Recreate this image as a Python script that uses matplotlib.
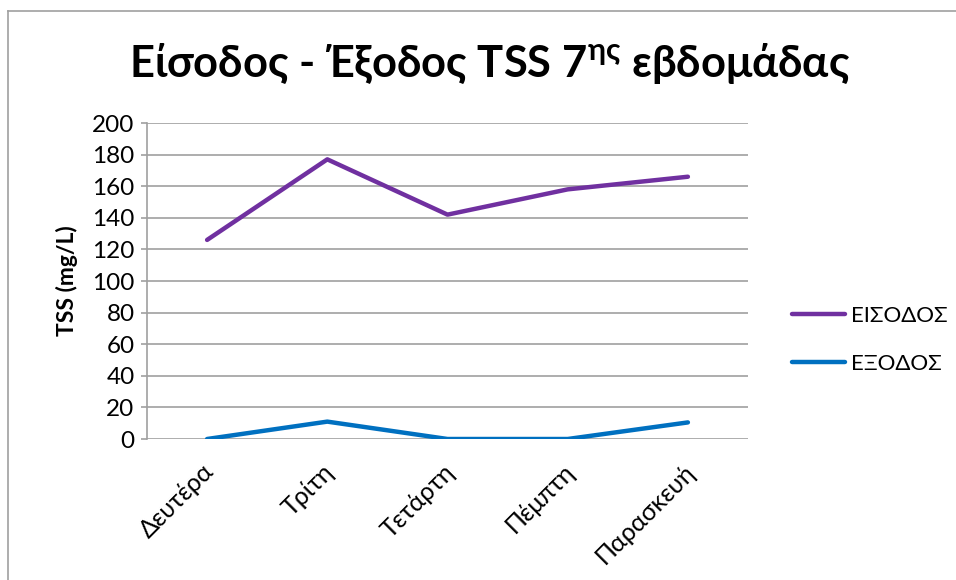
import matplotlib
matplotlib.use("Agg")
import matplotlib.pyplot as plt
from matplotlib.lines import Line2D

days = ["Δευτέρα", "Τρίτη", "Τετάρτη", "Πέμπτη", "Παρασκευή"]
eisodos = [126, 177, 142, 158, 166]
exodos = [0, 11, 0, 0, 10.5]
yticks = [0, 20, 40, 60, 80, 100, 120, 140, 160, 180, 200]

plt.rcParams['font.family'] = ['Lato', 'DejaVu Sans']

fig = plt.figure(figsize=(9.56, 5.8), dpi=100)
ax = fig.add_axes([147/956, 1-439/580, (748-147)/956, (439-123)/580])

x = list(range(len(days)))
ax.plot(x, eisodos, color="#7030A0", lw=3.2, solid_capstyle='round', solid_joinstyle='round', label="ΕΙΣΟΔΟΣ", zorder=3)
ax.plot(x, exodos, color="#0070C0", lw=3.2, solid_capstyle='round', solid_joinstyle='round', label="ΕΞΟΔΟΣ", zorder=3)

ax.set_xlim(-0.5, len(days)-0.5)
ax.set_ylim(0, 200)
ax.set_yticks(yticks)
ax.set_yticklabels([str(v) for v in yticks], fontsize=17.5)
ax.yaxis.grid(True, color="#a0a0a0", lw=1.2)
ax.set_axisbelow(True)
for s in ["top", "right", "bottom"]:
    ax.spines[s].set_visible(False)
ax.spines["left"].set_color("#a0a0a0")
ax.spines["left"].set_linewidth(1.2)
ax.tick_params(axis='y', length=4, color="#a0a0a0", width=1.2, pad=5)
ax.tick_params(axis='x', length=0, pad=15)
ax.set_xticks(x)
ax.set_xticklabels(days, rotation=45, ha='right', va='top', rotation_mode='anchor', fontsize=18)
for lab in ax.get_xticklabels():
    lab.set_transform(lab.get_transform() + matplotlib.transforms.ScaledTranslation(-0.05, 0, fig.dpi_scale_trans))

ax.set_ylabel("TSS (mg/L)", fontsize=16.5, fontweight='bold', labelpad=10)

fig.text(490/956, 1-64/580, r"Είσοδος - Έξοδος TSS 7$^{\mathregular{ης}}$ εβδομάδας", ha='center', va='center',
         fontsize=31.3, fontweight='bold')

fig.legend(handles=[Line2D([], [], color="#7030A0", lw=3.2, solid_capstyle='round'),
                    Line2D([], [], color="#0070C0", lw=3.2, solid_capstyle='round')],
           labels=["ΕΙΣΟΔΟΣ", "ΕΞΟΔΟΣ"], loc='center left', bbox_to_anchor=(772/956, 1-340/580),
           frameon=False, fontsize=16, handlelength=2.4, labelspacing=1.25, handletextpad=0.25)

# chart border (left and top edges visible)
fig.add_artist(Line2D([8/956, 8/956], [0, 1-11/580], transform=fig.transFigure, color="#a0a0a0", lw=1.2))
fig.add_artist(Line2D([8/956, 1], [1-11/580, 1-11/580], transform=fig.transFigure, color="#a0a0a0", lw=1.2))

fig.savefig("out.png", dpi=100)
